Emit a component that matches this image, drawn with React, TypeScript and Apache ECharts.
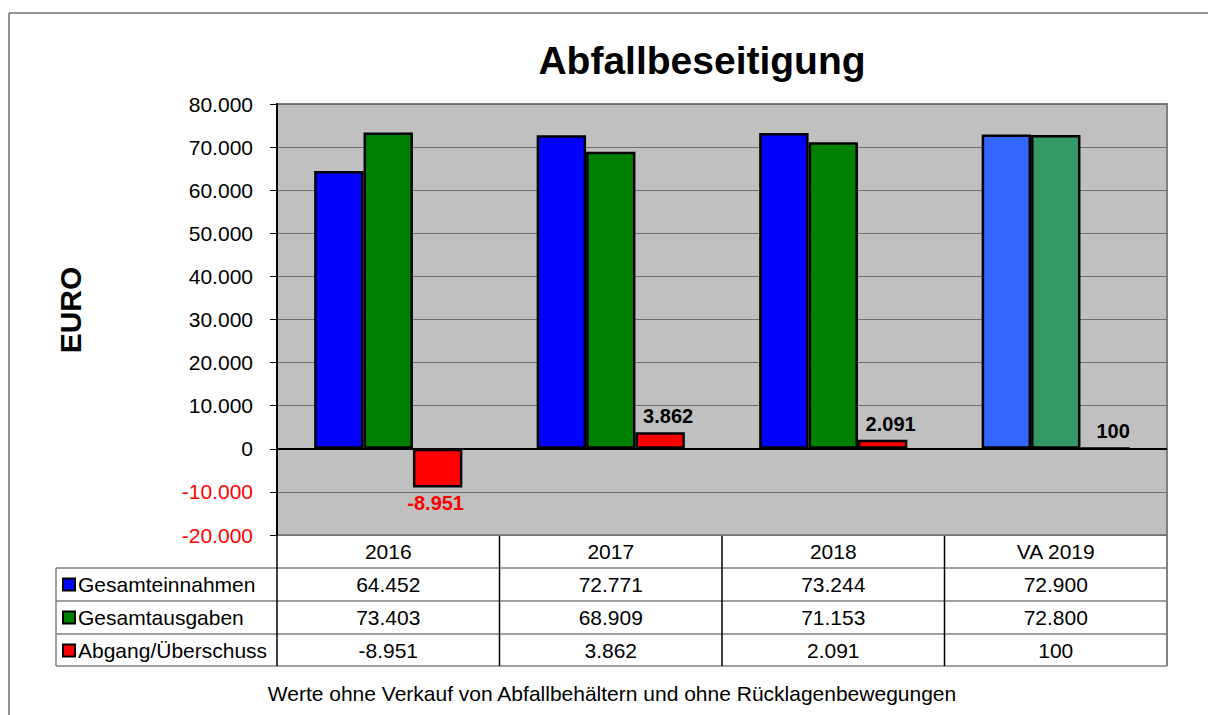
import React, { useEffect, useRef } from "react";
import * as echarts from "echarts";

const categories = ["2016", "2017", "2018", "VA 2019"];
const einnahmen = [64452, 72771, 73244, 72900];
const ausgaben = [73403, 68909, 71153, 72800];
const saldo = [-8951, 3862, 2091, 100];
const seriesNames = ["Gesamteinnahmen", "Gesamtausgaben", "Abgang/Überschuss"];
const yMin = -20000;
const yMax = 80000;
const yInterval = 10000;
const titleText = "Abfallbeseitigung";
const yAxisTitle = "EURO";
const footnote = "Werte ohne Verkauf von Abfallbehältern und ohne Rücklagenbewegungen";

const baseColors = ["#0000FF", "#008000", "#FF0000"];
const forecastColors = ["#3366FF", "#339966", "#FF0000"];
const isForecast = [false, false, false, true];

const FONT = "'Liberation Sans', Arial, sans-serif";

function fmt(n: number): string {
  const s = Math.abs(n).toString().replace(/\B(?=(\d{3})+(?!\d))/g, ".");
  return (n < 0 ? "-" : "") + s;
}

// layout
const W = 1208;
const H = 715;
const GL = 277;
const GT = 104;
const GR = 1167;
const GB = 535;
const ROW_H = 33;
const TABLE_L = 56;

export default function App() {
  const ref = useRef<HTMLDivElement>(null);

  useEffect(() => {
    if (!ref.current) return;
    const chart = echarts.init(ref.current, undefined, { renderer: "svg" });
    const values = [einnahmen, ausgaben, saldo];
    const colW = (GR - GL) / categories.length;

    const series: any[] = values.map((arr, si) => ({
      name: seriesNames[si],
      type: "bar",
      barWidth: "22.2%",
      barGap: "0%",
      data: arr.map((v, ci) => ({
        value: v,
        itemStyle: {
          color: isForecast[ci] ? forecastColors[si] : baseColors[si],
          borderColor: "#000",
          borderWidth: 2.5,
        },
        label:
          si === 2
            ? {
                show: true,
                position: v < 0 ? "bottom" : "top",
                distance: 6,
                offset: v < 0 ? [-2, 0] : [8, 0],
                color: v < 0 ? "#FF0000" : "#000",
                fontWeight: "bold",
                fontSize: 20,
                fontFamily: FONT,
                formatter: () => fmt(v),
              }
            : { show: false },
      })),
      ...(si === 2
        ? {
            markLine: {
              silent: true,
              symbol: "none",
              label: { show: false },
              lineStyle: { color: "#000", width: 2, type: "solid" },
              data: [{ yAxis: 0 }],
              z: 10,
            },
          }
        : {}),
    }));

    const graphics: any[] = [];
    // outer frame
    graphics.push({
      type: "line",
      shape: { x1: 9, y1: 13, x2: W, y2: 13 },
      style: { stroke: "#707070", lineWidth: 1.5 },
    });
    graphics.push({
      type: "line",
      shape: { x1: 9, y1: 13, x2: 9, y2: H },
      style: { stroke: "#707070", lineWidth: 1.5 },
    });
    // title
    graphics.push({
      type: "text",
      x: 702,
      y: 60,
      style: {
        text: titleText,
        fontSize: 39,
        fontWeight: "bold",
        fontFamily: FONT,
        fill: "#000",
        align: "center",
        verticalAlign: "middle",
      },
    });
    // y axis title
    graphics.push({
      type: "text",
      x: 70,
      y: 310,
      rotation: Math.PI / 2,
      style: {
        text: yAxisTitle,
        fontSize: 30,
        fontWeight: "bold",
        fontFamily: FONT,
        fill: "#000",
        align: "center",
        verticalAlign: "middle",
      },
    });
    // footnote
    graphics.push({
      type: "text",
      x: 612,
      y: 693,
      style: {
        text: footnote,
        fontSize: 21,
        fontFamily: FONT,
        fill: "#000",
        align: "center",
        verticalAlign: "middle",
      },
    });
    // table horizontal lines
    for (let r = 1; r <= 4; r++) {
      const y = GB + r * ROW_H - (r === 4 ? 1 : 0);
      graphics.push({
        type: "line",
        shape: { x1: TABLE_L, y1: y, x2: GR, y2: y },
        style: { stroke: "#808080", lineWidth: 1.5 },
      });
    }
    const tableBottom = GB + 4 * ROW_H - 1;
    // left table border
    graphics.push({
      type: "line",
      shape: { x1: TABLE_L, y1: GB + ROW_H, x2: TABLE_L, y2: tableBottom },
      style: { stroke: "#808080", lineWidth: 1.5 },
    });
    // vertical lines
    for (let c = 0; c <= categories.length; c++) {
      const x = GL + c * colW;
      graphics.push({
        type: "line",
        shape: { x1: x, y1: GB, x2: x, y2: tableBottom },
        style: { stroke: c === categories.length ? "#808080" : "#000", lineWidth: c === categories.length ? 2 : 1.5 },
      });
    }
    // legend cells
    seriesNames.forEach((name, si) => {
      const cy = GB + (si + 1) * ROW_H + ROW_H / 2;
      graphics.push({
        type: "rect",
        shape: { x: 63, y: cy - 6, width: 12, height: 12 },
        style: { fill: baseColors[si], stroke: "#000", lineWidth: 2 },
      });
      graphics.push({
        type: "text",
        x: 78,
        y: cy,
        style: {
          text: name,
          fontSize: 21,
          fontFamily: FONT,
          fill: "#000",
          align: "left",
          verticalAlign: "middle",
        },
      });
    });

    chart.setOption({
      animation: false,
      backgroundColor: "#fff",
      grid: {
        left: GL,
        top: GT,
        right: W - GR,
        bottom: H - GB,
        show: true,
        backgroundColor: "#C0C0C0",
        borderColor: "#808080",
        borderWidth: 2,
        containLabel: false,
      },
      xAxis: {
        type: "category",
        data: categories,
        axisLine: { show: false, onZero: false },
        axisTick: { show: false },
        splitLine: { show: false },
        axisLabel: {
          margin: 0,
          interval: 0,
          fontSize: 21,
          fontFamily: FONT,
          color: "#000",
          lineHeight: ROW_H,
          formatter: (value: string, idx: number) =>
            [value, fmt(einnahmen[idx]), fmt(ausgaben[idx]), fmt(saldo[idx])].join("\n"),
        },
      },
      yAxis: {
        type: "value",
        min: yMin,
        max: yMax,
        interval: yInterval,
        axisLine: { show: true, lineStyle: { color: "#000", width: 2 } },
        axisTick: { show: true, length: 7, lineStyle: { color: "#000", width: 1 } },
        splitLine: { show: true, lineStyle: { color: "#707070", width: 1 } },
        axisLabel: {
          margin: 24,
          fontSize: 21,
          fontFamily: FONT,
          color: (val: any) => (Number(val) < 0 ? "#FF0000" : "#000"),
          formatter: (v: number) => fmt(v),
        },
      },
      series,
      graphic: { elements: graphics },
    });

    return () => chart.dispose();
  }, []);

  return (
    <div
      ref={ref}
      style={{ position: "fixed", left: 0, top: 0, width: W, height: H, background: "#fff" }}
    />
  );
}
